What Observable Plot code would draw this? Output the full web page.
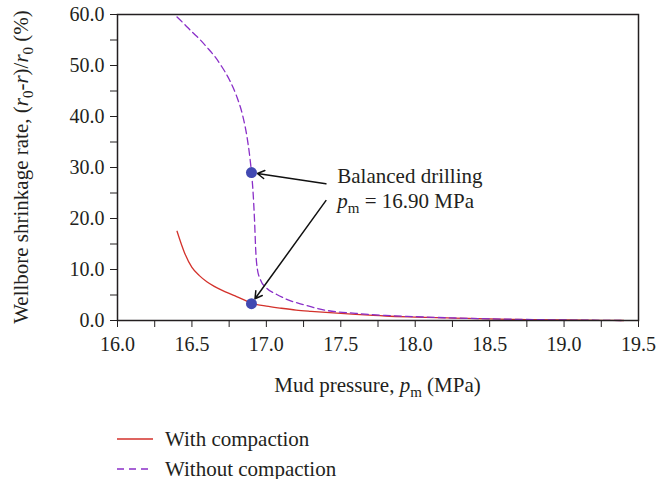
<!DOCTYPE html>
<html>
<head>
<meta charset="utf-8">
<script src="https://cdn.jsdelivr.net/npm/d3@7"></script>
<script src="https://cdn.jsdelivr.net/npm/@observablehq/plot@0.6"></script>
<style>
  html, body { margin: 0; padding: 0; background: #fff; }
  #wrap { width: 656px; font-family: "Liberation Serif", "Times New Roman", Times, "DejaVu Serif", serif; color: #231f20; }
  #wrap svg text { font-family: "Liberation Serif", "Times New Roman", Times, "DejaVu Serif", serif; }
  .legend-row { display: flex; align-items: center; height: 20px; font-size: 21px; }
  .legend-row svg { margin-left: 117px; margin-right: 12px; }
</style>
</head>
<body>
<div id="wrap"></div>
<script>
// Mud pressure (MPa) and wellbore shrinkage rate (%) — with compaction
const withP = [16.40, 16.45, 16.50, 16.55, 16.60, 16.65, 16.70, 16.75, 16.80, 16.90, 17.00, 17.10, 17.20, 17.30, 17.40, 17.60, 17.80, 18.00, 18.25, 18.50, 18.75, 19.00, 19.25, 19.40];
const withS = [17.5, 13.3, 10.4, 8.8, 7.6, 6.7, 5.95, 5.3, 4.7, 3.4, 2.8, 2.4, 2.05, 1.8, 1.58, 1.2, 0.88, 0.68, 0.48, 0.3, 0.18, 0.1, 0.04, 0.0];

// Without compaction
const withoutP = [16.40, 16.45, 16.50, 16.55, 16.60, 16.65, 16.70, 16.75, 16.80, 16.84, 16.87, 16.89, 16.90, 16.91, 16.92, 16.93, 16.94, 16.96, 17.00, 17.07, 17.15, 17.25, 17.40, 17.60, 17.80, 18.00, 18.25, 18.50, 18.75, 19.00, 19.25, 19.40];
const withoutS = [59.5, 58.1, 56.6, 55.2, 53.6, 51.9, 49.8, 47.3, 44.0, 40.3, 36.0, 31.8, 29.0, 25.5, 20.0, 13.0, 10.0, 8.0, 6.4, 5.1, 4.0, 3.1, 2.0, 1.4, 1.0, 0.75, 0.5, 0.32, 0.2, 0.1, 0.04, 0.0];

// Balanced drilling points (pm = 16.90 MPa) on each curve
const balancedP = [16.90, 16.90];
const balancedS = [29.0, 3.3];

// Arrow tails near the annotation text
const arrowTailP = [17.40, 17.40];
const arrowTailS = [26.8, 23.5];

// Axis ticks
const xTicks = [16.0, 16.5, 17.0, 17.5, 18.0, 18.5, 19.0, 19.5];
const xMinor = [16.25, 16.75, 17.25, 17.75, 18.25, 18.75, 19.25];
const yTicks = [0, 10, 20, 30, 40, 50, 60];
const yMinor = [5, 15, 25, 35, 45, 55];

const seriesNames = ["With compaction", "Without compaction"];
const annotLines = ["Balanced drilling", "16.90 MPa"];
const annotAnchor = {p: 17.48, s: 26.9};

const withData = withP.map((p, i) => ({p, s: withS[i]}));
const withoutData = withoutP.map((p, i) => ({p, s: withoutS[i]}));
const dots = balancedP.map((p, i) => ({p, s: balancedS[i]}));
const arrows = balancedP.map((p, i) => ({x1: arrowTailP[i], y1: arrowTailS[i], x2: p, y2: balancedS[i]}));

const ink = "#231f20";
const red = "#d3312b";
const purple = "#8a2fc8";
const blue = "#4149b2";
const serif = "'Liberation Serif', 'Times New Roman', Times, 'DejaVu Serif', serif";
const labelSize = 21;

const chart = Plot.plot({
  width: 656,
  height: 410,
  marginLeft: 117,
  marginRight: 18,
  marginTop: 14,
  marginBottom: 90,
  style: {fontFamily: serif, fontSize: "20px", color: ink, background: "#fff"},
  x: {domain: [16, 19.5]},
  y: {domain: [0, 60]},
  marks: [
    Plot.axisX({ticks: xTicks, tickFormat: d3.format(".1f"), tickSize: 7, tickPadding: 9, tickWidth: 1.5, stroke: ink, label: null}),
    Plot.axisX({ticks: xMinor, tickFormat: () => "", tickSize: 7, tickWidth: 1.5, stroke: ink, label: null}),
    Plot.axisY({ticks: yTicks, tickFormat: d3.format(".1f"), tickSize: 7, tickPadding: 6, tickWidth: 1.5, stroke: ink, label: null}),
    Plot.axisY({ticks: yMinor, tickFormat: () => "", tickSize: 7, tickWidth: 1.5, stroke: ink, label: null}),
    Plot.line(withData, {x: "p", y: "s", stroke: red, strokeWidth: 1.3, curve: "monotone-x"}),
    Plot.line(withoutData, {x: "p", y: "s", stroke: purple, strokeWidth: 1.3, strokeDasharray: "7,4", curve: "monotone-x"}),
    Plot.arrow(arrows, {x1: "x1", y1: "y1", x2: "x2", y2: "y2", stroke: "#111", strokeWidth: 1.5, headLength: 8, insetEnd: 6}),
    Plot.dot(dots, {x: "p", y: "s", r: 5.5, fill: blue, stroke: "none"}),
    Plot.frame({stroke: ink, strokeWidth: 1.5})
  ]
});

const svg = d3.select(chart);
const xs = chart.scale("x");
const ys = chart.scale("y");
const plotLeft = 117, plotRight = 656 - 18, plotTop = 14, plotBottom = 410 - 90;

function addText(attrs) {
  const t = svg.append("text")
    .attr("fill", ink)
    .attr("text-anchor", attrs.anchor || "start")
    .style("font-family", serif)
    .style("font-size", labelSize + "px");
  if (attrs.transform) t.attr("transform", attrs.transform);
  if (attrs.x != null) t.attr("x", attrs.x).attr("y", attrs.y);
  return t;
}
const sub = (t, s) => { t.append("tspan").attr("font-size", "15px").attr("dy", 5).text(s); };

// y-axis title with italic r and subscript 0
const yt = addText({anchor: "middle", transform: `translate(28,${(plotTop + plotBottom) / 2}) rotate(-90)`});
yt.append("tspan").text("Wellbore shrinkage rate, (");
yt.append("tspan").attr("font-style", "italic").text("r");
sub(yt, "0");
yt.append("tspan").attr("dy", -5).text("-");
yt.append("tspan").attr("font-style", "italic").text("r");
yt.append("tspan").text(")/");
yt.append("tspan").attr("font-style", "italic").text("r");
sub(yt, "0");
yt.append("tspan").attr("dy", -5).text(" (%)");

// x-axis title
const xt = addText({anchor: "middle", x: (plotLeft + plotRight) / 2, y: 392});
xt.append("tspan").text("Mud pressure, ");
xt.append("tspan").attr("font-style", "italic").text("p");
sub(xt, "m");
xt.append("tspan").attr("dy", -5).text(" (MPa)");

// annotation
const ax = xs.apply(annotAnchor.p), ay = ys.apply(annotAnchor.s);
addText({x: ax, y: ay}).text(annotLines[0]);
const l2 = addText({x: ax, y: ay + 25});
l2.append("tspan").attr("font-style", "italic").text("p");
sub(l2, "m");
l2.append("tspan").attr("dy", -5).text(" = " + annotLines[1]);

const wrap = document.getElementById("wrap");
wrap.appendChild(chart);

// legend below the plot
const legend = d3.select(wrap).append("div").style("margin-top", "19px");
const styles = [{stroke: red, dash: null}, {stroke: purple, dash: "7,5"}];
seriesNames.forEach((name, i) => {
  const row = legend.append("div").attr("class", "legend-row").style("margin-top", i ? "10px" : "0px");
  const sw = row.append("svg").attr("width", 36).attr("height", 20);
  sw.append("line").attr("x1", 0).attr("x2", 36).attr("y1", 10).attr("y2", 10)
    .attr("stroke", styles[i].stroke).attr("stroke-width", 1.3)
    .attr("stroke-dasharray", styles[i].dash);
  row.append("span").text(name);
});
</script>
</body>
</html>
